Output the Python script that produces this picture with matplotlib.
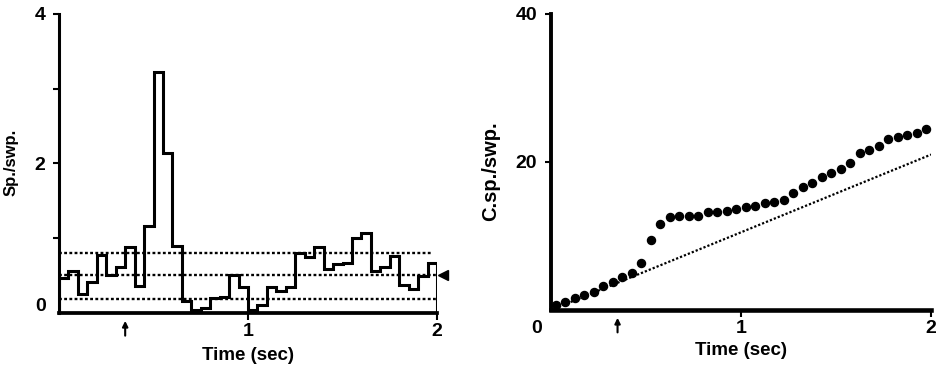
import numpy as np
import matplotlib
matplotlib.use("Agg")
import matplotlib.pyplot as plt

plt.rcParams["font.family"] = ["Liberation Sans", "DejaVu Sans"]
plt.rcParams["font.weight"] = "bold"

# Time bins (sec): 40 bins of 50 ms over a 2 s sweep
bin_edges = np.linspace(0.0, 2.0, 41)
bin_centers = (bin_edges[:-1] + bin_edges[1:]) / 2

# Left panel: spikes per sweep in each bin
spikes_per_sweep = [
    0.47, 0.56, 0.26, 0.42, 0.78, 0.51, 0.62, 0.88, 0.36, 1.17,
    3.23, 2.14, 0.89, 0.16, 0.04, 0.07, 0.20, 0.22, 0.51, 0.35,
    0.04, 0.11, 0.35, 0.29, 0.35, 0.80, 0.75, 0.88, 0.59, 0.65,
    0.67, 1.00, 1.07, 0.56, 0.62, 0.76, 0.38, 0.32, 0.49, 0.67,
]
# control mean and +/- SD levels (dotted lines)
mean_level = 0.51
upper_level = 0.80
lower_level = 0.19

# Right panel: cumulative spikes per sweep
cumulative = [
    0.7, 1.1, 1.6, 2.0, 2.5, 3.2, 3.8, 4.5, 5.0, 6.3,
    9.5, 11.6, 12.5, 12.7, 12.7, 12.7, 13.2, 13.2, 13.4, 13.7,
    13.9, 14.1, 14.4, 14.6, 14.9, 15.8, 16.6, 17.2, 18.0, 18.5,
    19.0, 19.9, 21.2, 21.6, 22.2, 23.1, 23.4, 23.6, 23.9, 24.4,
]
# expected cumulative count from the control mean rate
expected_t = [0.0, 2.0]
expected_c = [0.0, 21.0]

stim_time = 0.35

fig = plt.figure(figsize=(9.46, 3.71), dpi=100)
ax1 = fig.add_axes([0.0624, 0.1563, 0.3996, 0.806])
ax2 = fig.add_axes([0.5825, 0.1644, 0.4017, 0.798])

# ---- left: PST histogram ----
ax1.stairs(spikes_per_sweep, bin_edges, baseline=0, color="black",
           linewidth=2.2, zorder=3)
for lev, x_end in [(upper_level, 1.98), (mean_level, 2.0), (lower_level, 2.0)]:
    ax1.plot([0, x_end], [lev, lev], color="black", linewidth=1.7,
             linestyle=(0, (1.2, 1.0)), zorder=2)
ax1.plot([2.03], [mean_level], marker="<", color="black", markersize=7,
         clip_on=False)

ax1.set_xlim(0, 2)
ax1.set_ylim(0, 4)
ax1.set_yticks([1, 2, 3, 4])
ax1.set_yticklabels(["", "2", "", "4"])
ax1.set_xticks([1, 2])
ax1.set_xticklabels(["1", "2"])
ax1.text(-0.05, 0.023, "0", transform=ax1.transAxes, ha="center",
         va="center", fontsize=14, fontweight="bold")
ax1.set_ylabel("Sp./swp.", fontsize=12, fontweight="bold")
ax1.yaxis.set_label_coords(-0.108, 0.505)
ax1.set_xlabel("Time (sec)", fontsize=13.5, fontweight="bold")
ax1.xaxis.set_label_coords(0.5, -0.112)

# ---- right: cumulative histogram ----
ax2.plot(bin_centers, cumulative, "o", color="black", markersize=5.8,
         zorder=3)
ax2.plot(expected_t, expected_c, color="black", linewidth=1.6,
         linestyle=(0, (1.0, 0.9)), zorder=2)

ax2.set_xlim(0, 2)
ax2.set_ylim(0, 40)
ax2.set_yticks([20, 40])
ax2.set_yticklabels(["20", "40"])
ax2.set_xticks([1, 2])
ax2.set_xticklabels(["1", "2"])
ax2.text(-0.037, -0.061, "0", transform=ax2.transAxes, ha="center",
         va="center", fontsize=14, fontweight="bold")
ax2.set_ylabel("C.sp./swp.", fontsize=14.5, fontweight="bold")
ax2.yaxis.set_label_coords(-0.134, 0.47)
ax2.set_xlabel("Time (sec)", fontsize=13.5, fontweight="bold")
ax2.xaxis.set_label_coords(0.5, -0.108)

for ax, lw in ((ax1, 2.2), (ax2, 2.8)):
    for side in ("top", "right"):
        ax.spines[side].set_visible(False)
    ax.spines["left"].set_linewidth(lw)
    ax.spines["bottom"].set_linewidth(lw + 0.5)
    ax.tick_params(axis="y", direction="out", length=4, width=1.5,
                   pad=6, labelsize=14)
    ax.tick_params(axis="x", direction="out", length=5, width=1.5,
                   pad=2, labelsize=14)
    for lab in ax.get_xticklabels() + ax.get_yticklabels():
        lab.set_fontweight("bold")
    # stimulus arrow below the time axis
    ax.annotate("", xy=(stim_time, -0.017), xytext=(stim_time, -0.085),
                xycoords=("data", "axes fraction"),
                textcoords=("data", "axes fraction"),
                arrowprops=dict(arrowstyle="-|>", color="black", lw=1.5,
                                mutation_scale=8),
                annotation_clip=False)

fig.savefig("out.png", dpi=100, facecolor="white")
